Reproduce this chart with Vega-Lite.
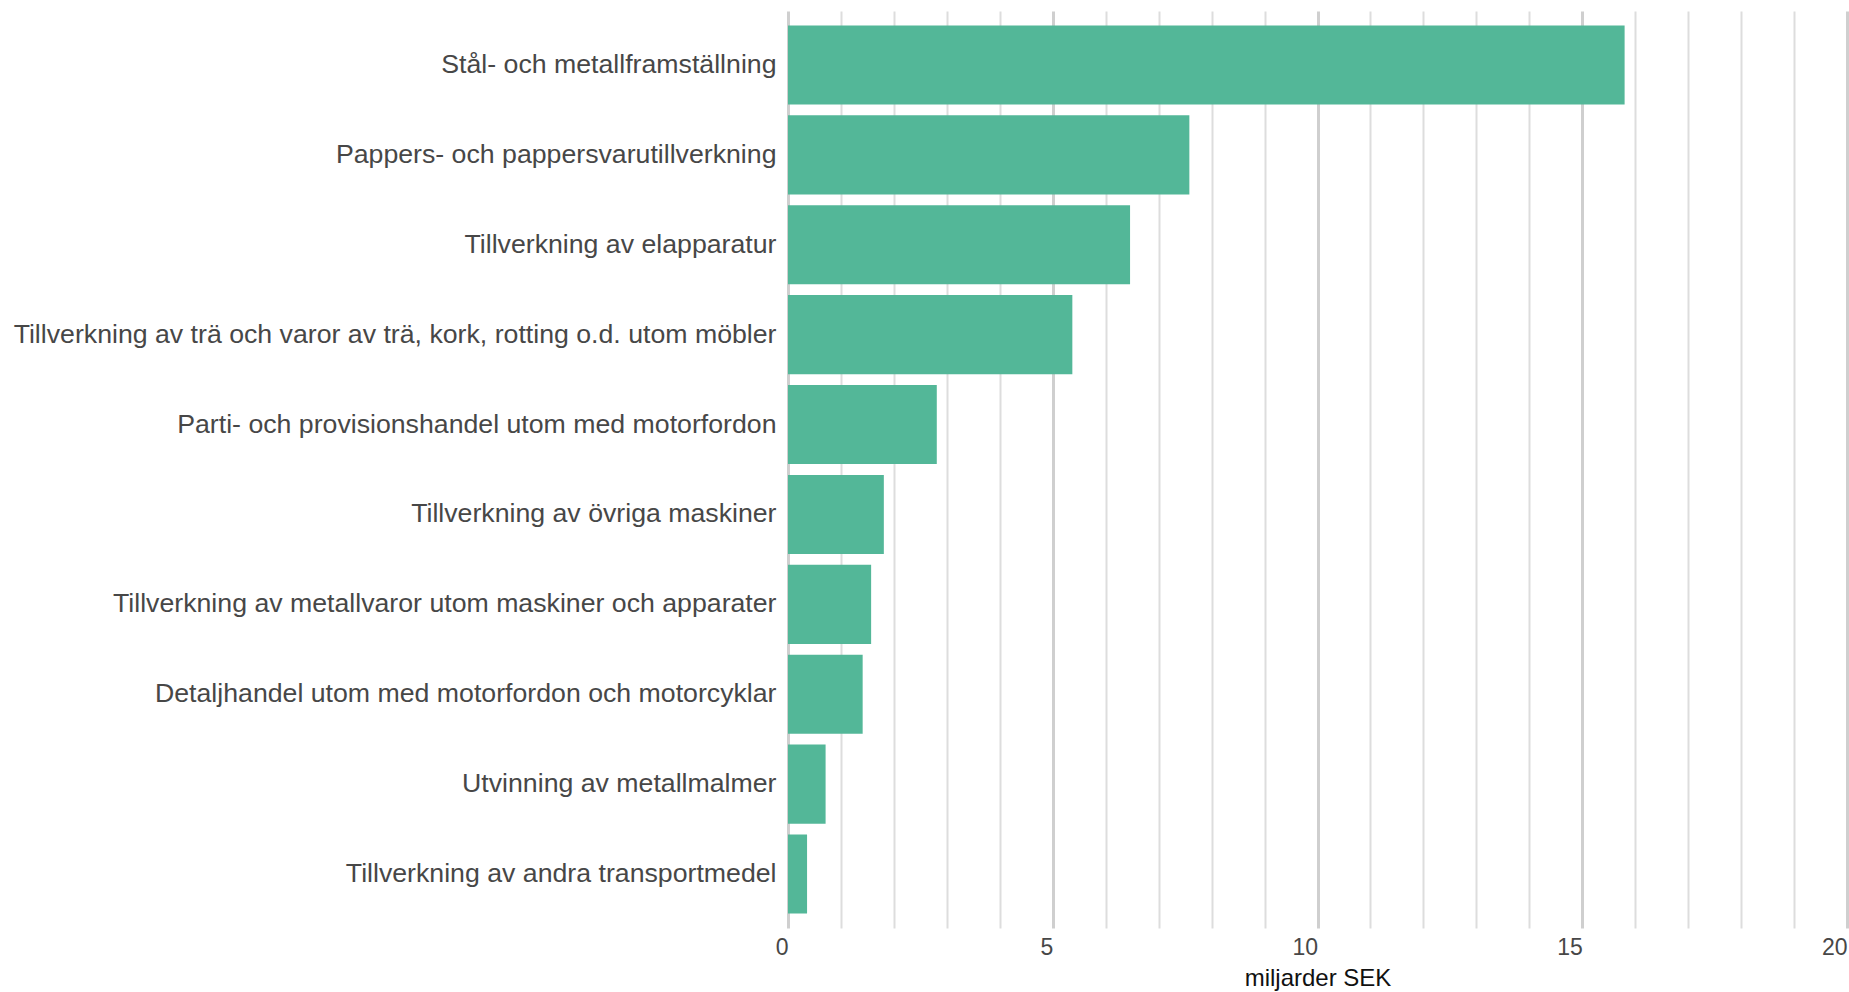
{
  "$schema": "https://vega.github.io/schema/vega-lite/v6.json",
  "autosize": "none",
  "width": 1059,
  "height": 917,
  "padding": {"left": 788, "top": 11, "right": 2, "bottom": 64},
  "background": "white",
  "config": {"view": {"stroke": null}, "font": "Liberation Sans"},
  "data": {
    "values": [
      {"bransch": "Stål- och metallframställning", "varde": 15.8},
      {"bransch": "Pappers- och pappersvarutillverkning", "varde": 7.58},
      {"bransch": "Tillverkning av elapparatur", "varde": 6.46},
      {"bransch": "Tillverkning av trä och varor av trä, kork, rotting o.d. utom möbler", "varde": 5.37},
      {"bransch": "Parti- och provisionshandel utom med motorfordon", "varde": 2.81},
      {"bransch": "Tillverkning av övriga maskiner", "varde": 1.81},
      {"bransch": "Tillverkning av metallvaror utom maskiner och apparater", "varde": 1.57},
      {"bransch": "Detaljhandel utom med motorfordon och motorcyklar", "varde": 1.41},
      {"bransch": "Utvinning av metallmalmer", "varde": 0.71},
      {"bransch": "Tillverkning av andra transportmedel", "varde": 0.36}
    ]
  },
  "mark": {"type": "bar", "color": "#53b798"},
  "encoding": {
    "y": {
      "field": "bransch",
      "type": "nominal",
      "sort": null,
      "scale": {"paddingInner": 0.12, "paddingOuter": 0.16},
      "axis": {
        "title": null,
        "domain": false,
        "ticks": false,
        "labelPadding": 12,
        "labelFontSize": 26.7,
        "labelColor": "#474747",
        "labelLimit": 900
      }
    },
    "x": {
      "field": "varde",
      "type": "quantitative",
      "scale": {"domain": [0, 20], "nice": false},
      "axis": {
        "title": "miljarder SEK",
        "titleFontSize": 24,
        "titleFontWeight": "normal",
        "titleColor": "#111111",
        "titlePadding": 7,
        "values": [0,1,2,3,4,5,6,7,8,9,10,11,12,13,14,15,16,17,18,19,20],
        "labelExpr": "datum.value % 5 === 0 ? datum.label : ''",
        "labelFontSize": 23,
        "labelColor": "#474747",
        "labelPadding": 8,
        "labelAlign": "right",
        "labelFlush": false,
        "labelBound": false,
        "domain": false,
        "ticks": false,
        "grid": true,
        "gridColor": {"condition": {"test": "datum.value % 5 === 0", "value": "#cfcfcf"}, "value": "#dddddd"},
        "gridWidth": {"condition": {"test": "datum.value % 5 === 0", "value": 3}, "value": 2}
      }
    }
  }
}
